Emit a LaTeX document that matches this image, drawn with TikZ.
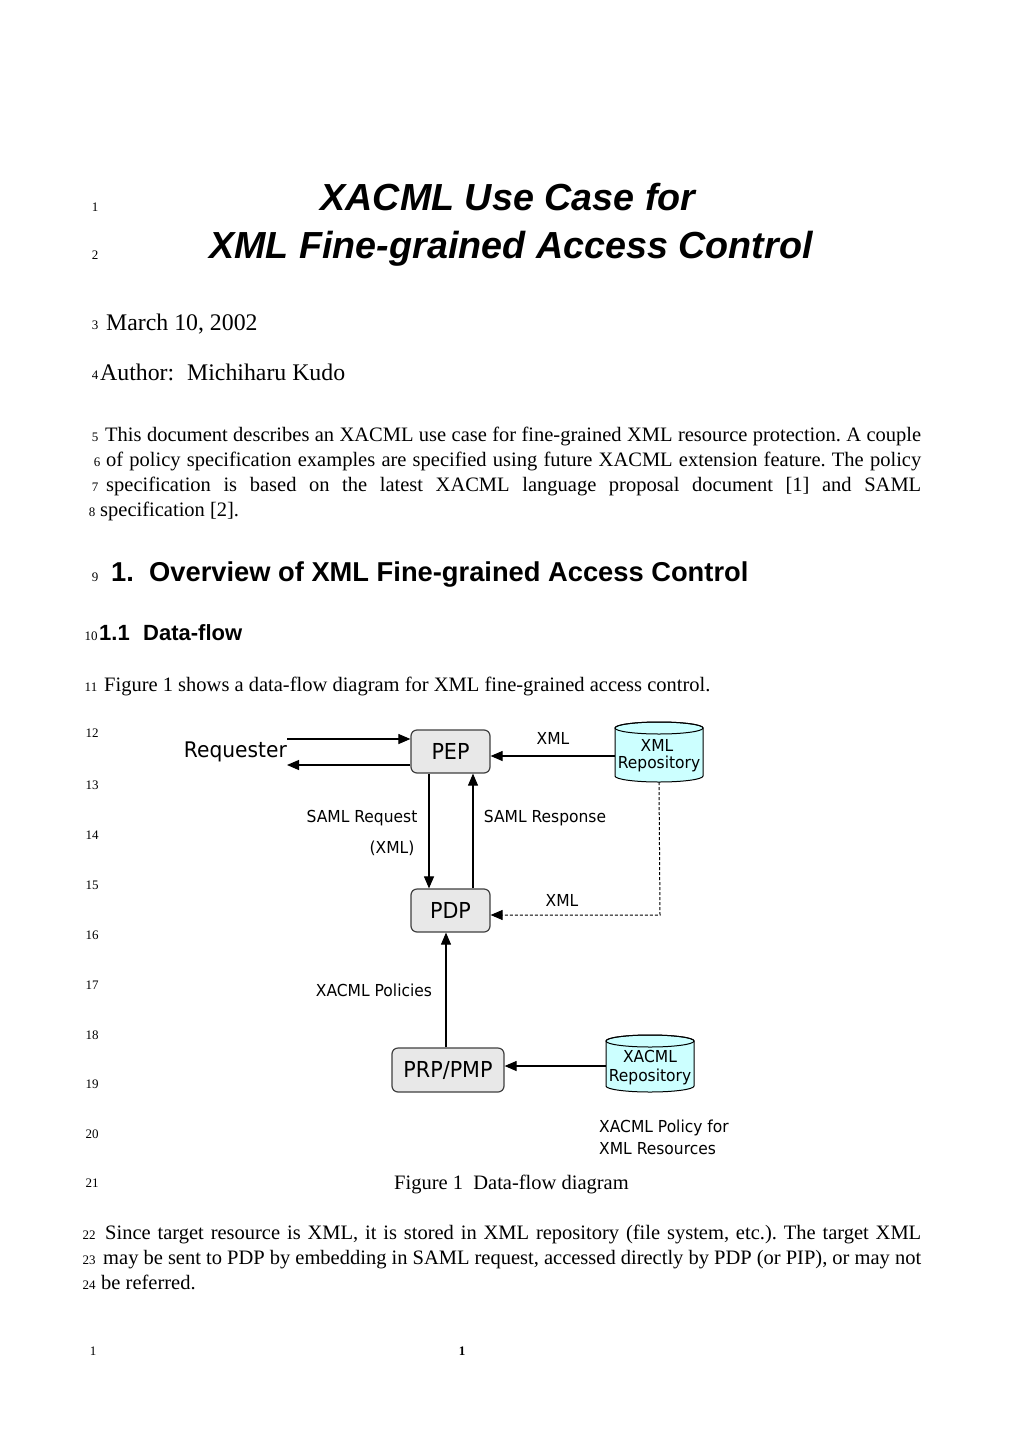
\documentclass[tikz,border=0pt]{standalone}
\usepackage{fontspec}
\setmainfont{Liberation Serif}
\newfontfamily\arialfam{Liberation Sans}
\newfontfamily\diagfam[FakeStretch=0.94]{DejaVu Sans}
\usetikzlibrary{arrows.meta}
\frenchspacing
\newcommand\xbody{\fontsize{20.5pt}{24pt}\selectfont}
\newcommand\xbodyl{\fontsize{23.8pt}{27pt}\selectfont}
\newcommand\xnum{\fontsize{13pt}{15pt}\selectfont}
\newcommand\xdiag{\diagfam\fontsize{16.5pt}{19pt}\selectfont}
\newcommand\xbig{\diagfam\fontsize{22pt}{25pt}\selectfont}
\definecolor{boxfill}{RGB}{232,232,232}
\definecolor{boxline}{RGB}{64,64,64}
\definecolor{cylfill}{RGB}{204,255,255}
\begin{document}
\begin{tikzpicture}[x=1pt,y=-1pt,
  txt/.style={inner sep=0pt, anchor=base west, font=\xbody},
  num/.style={inner sep=0pt, anchor=base, font=\xnum},
  lab/.style={inner sep=0pt, anchor=center, font=\xdiag},
  procbox/.style={draw=boxline, fill=boxfill, line width=1.2pt, rounded corners=6pt, font=\xbig, inner sep=0pt},
  arr/.style={-{Triangle[length=12pt,width=10pt]}, line width=1.1pt},
  dasharr/.style={-{Triangle[length=12pt,width=10pt]}, line width=1pt, dash pattern=on 3pt off 2pt},
  repo/.style={draw=black, fill=cylfill, line width=1pt}]
\useasboundingbox (0,0) rectangle (1020,1443);
\fill[white] (0,0) rectangle (1020,1443);

% title
\node[num] (n1) at (95,211) {1};
\node[inner sep=0pt, anchor=base, font=\arialfam\bfseries\itshape\fontsize{37.7pt}{40pt}\selectfont] (t1) at (508,210) {XACML Use Case for};
\node[num] (n2) at (95,259) {2};
\node[inner sep=0pt, anchor=base, font=\arialfam\bfseries\itshape\fontsize{37.7pt}{40pt}\selectfont] (t2) at (511,258) {XML Fine-grained Access Control};

\node[num] (n3) at (95,329) {3};
\node[txt, font=\xbodyl] (date) at (106,330) {March 10, 2002};
\node[num] (n4) at (95,379) {4};
\node[txt, font=\xbodyl] (auth) at (100,380) {Author:};
\node[txt, font=\xbodyl] (authn) at (187,380) {Michiharu Kudo};

% paragraph 1
\node[num] (n5) at (95,441) {5};
\node[txt] (p5) at (105,441) {\makebox[816pt][s]{This document describes an XACML use case for fine-grained XML resource protection. A couple}};
\node[num] (n6) at (97,466) {6};
\node[txt] (p6) at (106,466) {\makebox[815pt][s]{of policy specification examples are specified using future XACML extension feature. The policy}};
\node[num] (n7) at (95,491) {7};
\node[txt] (p7) at (106,491) {\makebox[815pt][s]{specification is based on the latest XACML language proposal document [1] and SAML}};
\node[num] (n8) at (92,516) {8};
\node[txt] (p8) at (100,516) {specification [2].};

% headings
\node[num] (n9) at (95,581) {9};
\node[txt, font=\arialfam\bfseries\fontsize{27.3pt}{30pt}\selectfont] (h1a) at (111,581) {1.};
\node[txt, font=\arialfam\bfseries\fontsize{27.3pt}{30pt}\selectfont] (h1b) at (149,581) {Overview of XML Fine-grained Access Control};
\node[num] (n10) at (91,640) {10};
\node[txt, font=\arialfam\bfseries\fontsize{22pt}{25pt}\selectfont] (h2a) at (99,640) {1.1};
\node[txt, font=\arialfam\bfseries\fontsize{22pt}{25pt}\selectfont] (h2b) at (143,640) {Data-flow};
\node[num] (n11) at (91,691) {11};
\node[txt] (p11) at (104,691) {Figure 1 shows a data-flow diagram for XML fine-grained access control.};

% diagram line numbers
\node[num] (n12) at (92,737) {12};
\node[num] (n13) at (92,789) {13};
\node[num] (n14) at (92,839) {14};
\node[num] (n15) at (92,889) {15};
\node[num] (n16) at (92,939) {16};
\node[num] (n17) at (92,989) {17};
\node[num] (n18) at (92,1039) {18};
\node[num] (n19) at (92,1088) {19};
\node[num] (n20) at (92,1138) {20};
\node[num] (n21) at (92,1187) {21};

% diagram
\node[inner sep=0pt, anchor=east, font=\diagfam\fontsize{21.5pt}{24pt}\selectfont] (req) at (287,752) {Requester};
\node[procbox, minimum width=79pt, minimum height=43pt] (pep) at (450.5,751.5) {PEP};
\node[procbox, minimum width=79pt, minimum height=43pt] (pdp) at (450.5,910.5) {PDP};
\node[procbox, minimum width=112pt, minimum height=44pt] (prp) at (448,1070) {PRP/PMP};

% XML repository cylinder
\draw[repo] (615,728) -- (615,776) arc[start angle=180, end angle=360, x radius=44pt, y radius=6pt] -- (703,728) arc[start angle=0, end angle=180, x radius=44pt, y radius=6pt] -- cycle;
\draw[line width=1pt] (659,728) ellipse [x radius=44pt, y radius=6pt];
\node[inner sep=0pt, minimum width=88pt, minimum height=60pt] (xrepo) at (659,752) {};
\node[lab] (xrepo1) at (657,745) {XML};
\node[lab] (xrepo2) at (659,764) {Repository};

% XACML repository cylinder
\draw[repo] (606,1041) -- (606,1086) arc[start angle=180, end angle=360, x radius=44pt, y radius=6pt] -- (694,1041) arc[start angle=0, end angle=180, x radius=44pt, y radius=6pt] -- cycle;
\draw[line width=1pt] (650,1041) ellipse [x radius=44pt, y radius=6pt];
\node[inner sep=0pt, minimum width=88pt, minimum height=57pt] (arepo) at (650,1066) {};
\node[lab] (arepo1) at (650,1056) {XACML};
\node[lab] (arepo2) at (650,1077) {Repository};

% connectors
\draw[arr] (req.east |- 0,739) -- (pep.west |- 0,739);
\draw[arr] (pep.west |- 0,765) -- (req.east |- 0,765);
\draw[arr] (xrepo.west |- 0,756) -- (pep.east |- 0,756);
\draw[arr] (pep.south -| 429,0) -- (pdp.north -| 429,0);
\draw[arr] (pdp.north -| 473,0) -- (pep.south -| 473,0);
\draw[dasharr] (xrepo.south) -- (660,915) -- (pdp.east |- 0,915);
\draw[arr] (prp.north -| 446,0) -- (pdp.south -| 446,0);
\draw[arr] (arepo.west |- 0,1066) -- (prp.east |- 0,1066);

% labels
\node[lab] (lxml1) at (553,738) {XML};
\node[lab] (lreq) at (362,818) {SAML Request};
\node[lab] (lreq2) at (392,848) {(XML)};
\node[lab] (lresp) at (545,818) {SAML Response};
\node[lab] (lxml2) at (562,900) {XML};
\node[lab] (lpol) at (374,990) {XACML Policies};
\node[lab, anchor=west] (lpf1) at (599,1128) {XACML Policy for};
\node[lab, anchor=west] (lpf2) at (599,1149) {XML Resources};

% caption and text
\node[txt] (cap) at (394,1189) {Figure 1\ \ Data-flow diagram};
\node[num] (n22) at (89,1239) {22};
\node[txt] (p22) at (105,1239) {\makebox[816pt][s]{Since target resource is XML, it is stored in XML repository (file system, etc.). The target XML}};
\node[num] (n23) at (89,1264) {23};
\node[txt] (p23) at (103,1264) {\makebox[818pt][s]{may be sent to PDP by embedding in SAML request, accessed directly by PDP (or PIP), or may not}};
\node[num] (n24) at (89,1289) {24};
\node[txt] (p24) at (101,1289) {be referred.};

% footer
\node[num] (f1) at (93,1355) {1};
\node[num, font=\xnum\bfseries] (f2) at (462,1355) {1};
\end{tikzpicture}
\end{document}
